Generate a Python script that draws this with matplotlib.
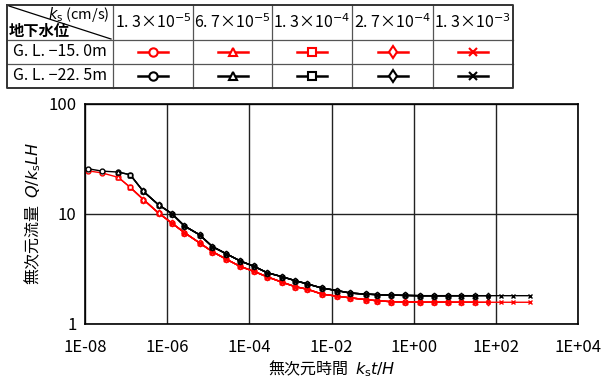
import matplotlib.pyplot as plt
import numpy as np

plt.rcParams['font.family'] = ['Noto Sans CJK JP', 'DejaVu Sans']
plt.rcParams['mathtext.fontset'] = 'dejavusans'

# legend table contents
ks_labels = ["1. 3×10$^{-5}$", "6. 7×10$^{-5}$", "1. 3×10$^{-4}$",
             "2. 7×10$^{-4}$", "1. 3×10$^{-3}$"]
depth_labels = ["G. L. −15. 0m", "G. L. −22. 5m"]
markers = ['o', '^', 's', 'd', 'x']
depth_colors = ['#ff0000', '#000000']

# log10(ks t / H) sample positions
log_kst_h = [-7.92, -7.59, -7.19, -6.90, -6.58, -6.21, -5.89, -5.58, -5.21,
             -4.90, -4.56, -4.22, -3.88, -3.57, -3.20, -2.88, -2.59, -2.23,
             -1.86, -1.54, -1.17, -0.89, -0.55, -0.20, 0.15, 0.50, 0.83,
             1.15, 1.50, 1.80, 2.12, 2.41, 2.83]

# Q / ks L H
q_gl150 = [24.4, 23.4, 21.3, 17.3, 13.4, 10.1, 8.2, 6.7, 5.4, 4.5, 3.84,
           3.3, 2.97, 2.66, 2.37, 2.16, 2.05, 1.85, 1.77, 1.71, 1.65, 1.61,
           1.58, 1.57, 1.56, 1.56, 1.56, 1.56, 1.56, 1.56, 1.56, 1.56, 1.56]
q_gl225 = [25.5, 24.3, 23.8, 22.5, 15.9, 12.0, 10.0, 7.7, 6.4, 5.0, 4.3,
           3.7, 3.3, 2.9, 2.66, 2.45, 2.29, 2.1, 1.99, 1.89, 1.85, 1.83,
           1.81, 1.80, 1.79, 1.79, 1.79, 1.79, 1.79, 1.79, 1.79, 1.79, 1.79]

# index range (first, last) covered by each ks series
series_span = [(0, 26), (2, 28), (3, 28), (4, 29), (6, 32)]

W, H = 616, 380
fig = plt.figure(figsize=(W / 100, H / 100), dpi=100)
fig.patch.set_facecolor('white')

# ---- main chart ----
ax = fig.add_axes([85 / W, 1 - 323.5 / H, (578 - 85) / W, (323.5 - 103.5) / H])
x_all = 10.0 ** np.array(log_kst_h)
for q, col in zip([q_gl150, q_gl225], depth_colors):
    q = np.array(q)
    for (i0, i1), m in zip(series_span, markers):
        ax.plot(x_all[i0:i1 + 1], q[i0:i1 + 1], color=col, lw=1.0,
                marker=m, ms=3.5, mfc='white' if m != 'x' else col,
                mec=col, mew=1.0)

ax.set_xscale('log')
ax.set_yscale('log')
ax.set_xlim(1e-8, 1e4)
ax.set_ylim(1, 100)
ax.set_xticks([10.0 ** k for k in range(-8, 5, 2)])
ax.set_xticklabels(["1E-08", "1E-06", "1E-04", "1E-02", "1E+00", "1E+02", "1E+04"])
ax.set_yticks([1, 10, 100])
ax.set_yticklabels(["1", "10", "100"])
ax.minorticks_off()
ax.tick_params(length=0, labelsize=12)
ax.tick_params(axis='x', pad=11)
ax.tick_params(axis='y', pad=6)
ax.grid(True, color='#222222', lw=1.0)
for s in ax.spines.values():
    s.set_linewidth(1.2)
ax.set_xlabel("無次元時間  $k_{\\rm s}t/H$", fontsize=11.5, labelpad=2)
ax.set_ylabel("無次元流量  $Q/k_{\\rm s}LH$", fontsize=11.5, labelpad=4)

# ---- legend table ----
tab = fig.add_axes([0, 0, 1, 1])
tab.set_xlim(0, W)
tab.set_ylim(H, 0)
tab.axis('off')

col_edges = [7, 113, 193, 272, 352, 433, 513]
row_edges = [5, 40, 64, 88]
for x in col_edges[1:-1]:
    tab.plot([x, x], [row_edges[0], row_edges[-1]], color='#555555', lw=0.9)
for y in row_edges[1:-1]:
    tab.plot([col_edges[0], col_edges[-1]], [y, y], color='#555555', lw=0.9)
tab.plot([col_edges[0], col_edges[-1], col_edges[-1], col_edges[0], col_edges[0]],
         [row_edges[0], row_edges[0], row_edges[-1], row_edges[-1], row_edges[0]],
         color='#333333', lw=1.4)
tab.plot([col_edges[0] + 2, col_edges[1] - 2], [row_edges[0] + 1, row_edges[1] - 1],
         color='black', lw=0.9)

tab.text(col_edges[1] - 3, 15, "$k_{\\rm s}$ (cm/s)", ha='right', va='center',
         fontsize=10.5)
tab.text(col_edges[0] + 2, 31, "地下水位", ha='left', va='center', fontsize=11,
         fontweight='bold')

for j, lab in enumerate(ks_labels):
    cx = (col_edges[j + 1] + col_edges[j + 2]) / 2
    tab.text(cx, 23, lab, ha='center', va='center', fontsize=11.5)

for r, (lab, col) in enumerate(zip(depth_labels, depth_colors)):
    cy = (row_edges[r + 1] + row_edges[r + 2]) / 2
    tab.text((col_edges[0] + col_edges[1]) / 2, cy, lab, ha='center', va='center',
             fontsize=11.5)
    for j, m in enumerate(markers):
        cx = (col_edges[j + 1] + col_edges[j + 2]) / 2
        tab.plot([cx - 15, cx + 15], [cy, cy], color=col, lw=1.8)
        tab.plot([cx], [cy], marker=m, ms=6, color=col,
                 mfc='white' if m != 'x' else col, mec=col, mew=1.5)

fig.savefig('out.png', dpi=100, facecolor='white')
